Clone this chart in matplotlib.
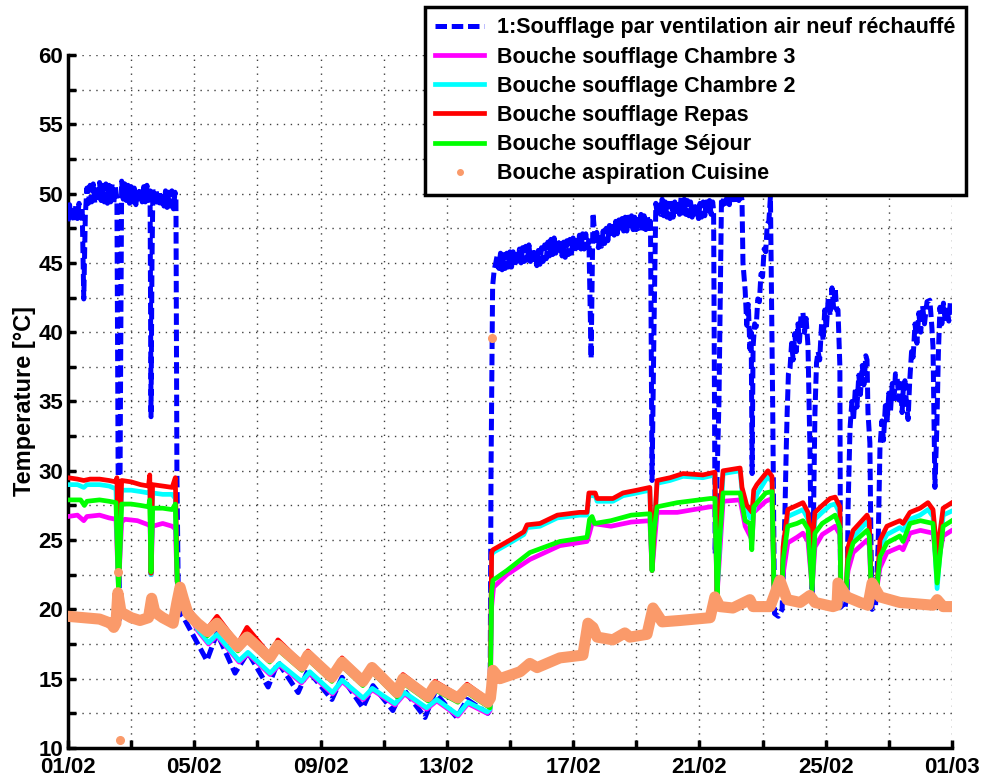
import matplotlib
matplotlib.use('Agg')
import matplotlib.pyplot as plt
from matplotlib.lines import Line2D
from matplotlib.ticker import MultipleLocator, FixedLocator

plt.rcParams['font.family'] = ['Liberation Sans', 'DejaVu Sans']
plt.rcParams['font.weight'] = 'bold'

# ---------------- data (time in days from 01/02 00:00, temperature in degC) ----------------
tick_days = [0, 4, 8, 12, 16, 20, 24, 28]
tick_labels = ['01/02', '05/02', '09/02', '13/02', '17/02', '21/02', '25/02', '01/03']

labels = ['1:Soufflage par ventilation air neuf réchauffé',
          'Bouche soufflage Chambre 3',
          'Bouche soufflage Chambre 2',
          'Bouche soufflage Repas',
          'Bouche soufflage Séjour',
          'Bouche aspiration Cuisine']

blue_t = [0.00, 0.05, 0.10, 0.15, 0.20, 0.25, 0.30, 0.35, 0.40, 0.45,
          0.50, 0.55, 0.60,
          0.65, 0.70, 0.75, 0.80, 0.85, 0.90, 0.95, 1.00, 1.05, 1.10, 1.15, 1.20,
          1.25, 1.30, 1.35, 1.40, 1.45, 1.50, 1.55,
          1.58, 1.61, 1.65, 1.70,
          1.75, 1.80, 1.85, 1.90, 1.95, 2.00, 2.05, 2.10, 2.15, 2.20, 2.25, 2.30,
          2.35, 2.40, 2.45, 2.50, 2.55, 2.60,
          2.63, 2.66, 2.69,
          2.74, 2.79, 2.84, 2.89, 2.94, 2.99, 3.04, 3.09, 3.14, 3.19, 3.24, 3.29,
          3.34, 3.39, 3.42,
          3.45, 3.50, 3.64,
          4.40, 4.72, 5.29, 5.70, 6.34, 6.65, 7.29, 7.60, 8.36, 8.68, 9.34, 9.66,
          10.29, 10.61, 11.31, 11.62, 12.32, 12.64, 13.30,
          13.37, 13.40, 13.45, 13.50, 13.55,
          13.60, 13.65, 13.70, 13.75, 13.80, 13.85, 13.90, 13.95, 14.00, 14.05, 14.10,
          14.15, 14.20, 14.25, 14.30, 14.35, 14.40, 14.45, 14.50, 14.55, 14.60, 14.65,
          14.70, 14.75, 14.80, 14.85, 14.90, 14.95, 15.00, 15.05, 15.10, 15.15, 15.20,
          15.25, 15.30, 15.35, 15.40, 15.45, 15.50, 15.55, 15.60, 15.65, 15.70, 15.75,
          15.80, 15.85, 15.90, 15.95, 16.00, 16.05, 16.10, 16.15, 16.20, 16.25, 16.30,
          16.35, 16.40, 16.45, 16.50,
          16.57, 16.63, 16.70,
          16.75, 16.80, 16.85, 16.90, 16.95, 17.00, 17.05, 17.10, 17.15, 17.20, 17.25,
          17.30, 17.35, 17.40, 17.45, 17.50, 17.55, 17.60, 17.65, 17.70, 17.75, 17.80,
          17.85, 17.90, 17.95, 18.00, 18.05, 18.10, 18.15, 18.20, 18.25, 18.30, 18.35,
          18.40, 18.45,
          18.50, 18.56, 18.62,
          18.67, 18.72, 18.77, 18.82, 18.87, 18.92, 18.97, 19.02, 19.07, 19.12, 19.17,
          19.22, 19.27, 19.32, 19.37, 19.42, 19.47, 19.52, 19.57, 19.62, 19.67, 19.72,
          19.77, 19.82, 19.87, 19.92, 19.97, 20.02, 20.07, 20.12, 20.17, 20.22, 20.27,
          20.32, 20.37, 20.42, 20.45,
          20.50, 20.62, 20.70,
          20.75, 20.80, 20.85, 20.90, 20.95, 21.00, 21.05, 21.10, 21.15, 21.20, 21.25,
          21.30,
          21.35, 21.38, 21.45, 21.50, 21.55, 21.60, 21.64, 21.67, 21.70, 21.75, 21.80,
          21.85, 21.90, 21.95, 22.00, 22.05, 22.10, 22.15, 22.20, 22.25, 22.32, 22.38,
          22.50, 22.62,
          22.65, 22.71, 22.75, 22.78, 22.82, 22.87, 22.92, 22.97, 23.02, 23.07, 23.12,
          23.17, 23.22, 23.28, 23.33, 23.38, 23.44, 23.50, 23.54, 23.57, 23.61, 23.66,
          23.71, 23.76, 23.81, 23.87, 23.92, 23.97, 24.02, 24.08, 24.14, 24.20, 24.25,
          24.30, 24.35, 24.39, 24.45, 24.47, 24.60, 24.68,
          24.71, 24.77, 24.83, 24.88, 24.94, 24.99, 25.05, 25.10, 25.16, 25.21, 25.27,
          25.31, 25.34, 25.40, 25.43, 25.47, 25.58,
          25.66, 25.72, 25.78, 25.83, 25.89, 25.94, 26.00, 26.05, 26.11, 26.16, 26.21,
          26.26, 26.32, 26.37, 26.42, 26.46, 26.51, 26.56, 26.61, 26.66, 26.72, 26.77,
          26.83, 26.89, 26.95, 27.01, 27.07, 27.13, 27.21, 27.30, 27.36, 27.40, 27.43,
          27.46, 27.52, 27.57, 27.62, 27.68, 27.73, 27.79, 27.84, 27.90, 27.95, 28.00]
blue_v = [48.0, 49.2, 48.1, 49.1, 48.0, 49.2, 48.2, 49.3, 48.3, 48.9,
          42.4, 48.5, 50.4,
          49.3, 50.6, 49.4, 50.7, 49.3, 50.6, 49.4, 50.8, 49.5, 50.6, 49.4, 50.7,
          49.3, 50.6, 49.4, 50.7, 49.3, 50.5, 49.6,
          35.0, 19.0, 30.0, 50.9,
          49.6, 50.7, 49.5, 50.6, 49.3, 50.5, 49.4, 50.4, 49.2, 50.3, 49.3, 50.4,
          49.4, 50.5, 49.4, 50.6, 49.5, 50.2,
          33.9, 45.0, 50.3,
          49.2, 50.3, 49.1, 50.2, 49.0, 50.1, 49.1, 50.2, 49.0, 50.1, 49.1, 50.2,
          48.9, 50.1, 49.5,
          30.0, 19.9, 19.5,
          16.3, 18.3, 15.4, 16.9, 14.4, 16.2, 14.0, 15.6, 13.5, 15.1, 12.9, 14.5,
          12.7, 14.3, 12.2, 14.0, 12.2, 13.5, 12.5,
          12.8, 30.0, 43.3, 44.5, 45.0,
          45.6, 44.6, 45.7, 44.5, 45.6, 44.6, 45.7, 44.7, 45.8, 44.7, 45.8,
          44.8, 45.9, 44.9, 46.0, 45.0, 46.1, 45.1, 46.2, 45.2, 46.3, 45.1,
          46.0, 44.9, 45.9, 44.8, 45.9, 44.9, 46.1, 45.1, 46.3, 45.3, 46.5,
          45.5, 46.7, 45.6, 46.8, 45.7, 46.7, 45.6, 46.6, 45.5, 46.5, 45.4,
          46.6, 45.6, 46.7, 45.7, 46.8, 45.8, 46.9, 45.9, 47.0, 46.0, 47.1,
          46.0, 47.1, 46.1, 46.6,
          38.1, 48.6, 46.6,
          47.2, 46.1, 47.1, 46.2, 47.3, 46.4, 47.5, 46.6, 47.7, 46.8, 47.9,
          47.0, 48.0, 47.1, 48.1, 47.2, 48.2, 47.3, 48.3, 47.3, 48.3, 47.4,
          48.4, 47.4, 48.3, 47.4, 48.4, 47.5, 48.5, 47.5, 48.4, 47.4, 48.4,
          47.5, 48.0,
          29.3, 40.0, 49.3,
          48.4, 49.5, 48.5, 49.6, 48.4, 49.4, 48.3, 49.3, 48.2, 49.3, 48.3,
          49.4, 48.4, 49.5, 48.5, 49.7, 48.6, 49.6, 48.5, 49.5, 48.4, 49.4,
          48.3, 49.3, 48.2, 49.2, 48.2, 49.3, 48.3, 49.4, 48.4, 49.4, 48.5,
          49.5, 48.5, 49.4, 48.8,
          24.0, 35.0, 49.7,
          49.2, 50.3, 49.3, 50.4, 49.2, 50.3, 49.3, 50.4, 49.4, 50.4, 49.5,
          50.3,
          49.5, 45.0, 43.0, 40.5, 42.0, 38.8, 40.0, 29.8, 38.9, 40.6, 40.4,
          42.4, 42.2, 44.2, 44.0, 46.0, 45.8, 47.8, 48.0, 49.8, 35.0, 19.7,
          19.5, 20.0,
          22.0, 27.0, 31.5, 34.2, 37.0, 37.4, 39.2, 38.0, 39.9, 38.6, 40.6,
          39.3, 41.3, 41.4, 40.0, 41.0, 39.0, 31.7, 24.5, 20.5, 26.0, 34.2,
          37.8, 38.6, 38.0, 40.6, 39.4, 41.6, 40.2, 42.4, 41.2, 43.2, 41.8,
          43.2, 41.6, 41.6, 37.5, 20.3, 20.0, 21.0,
          27.4, 33.0, 35.0, 33.6, 36.0, 34.6, 36.9, 35.5, 37.6, 36.2, 38.3,
          38.0, 34.2, 32.0, 25.5, 20.0, 20.3,
          24.5, 31.7, 33.6, 32.2, 34.7, 33.4, 35.6, 34.2, 36.3, 34.9, 37.0,
          36.8, 35.1, 36.3, 34.2, 36.0, 36.5, 34.8, 33.7, 36.4, 38.6, 38.2,
          40.6, 39.2, 41.4, 40.0, 41.9, 40.6, 42.2, 42.3, 40.5, 38.9, 34.0,
          28.8, 33.0, 38.5, 41.8, 40.6, 42.1, 40.7, 41.8, 40.8, 42.2, 41.6]

magenta_t = [0.0, 0.3, 0.5, 0.6, 1.0, 1.3, 1.52, 1.60, 1.70, 1.8, 2.2, 2.55, 2.60, 2.63, 2.68,
             3.0, 3.3, 3.40, 3.46, 3.52, 3.60, 3.80, 4.10, 4.45, 4.72, 5.42, 5.70, 6.40, 6.70,
             7.40, 7.66, 8.38, 8.68, 9.35, 9.64, 10.36, 10.66, 11.36, 11.68, 12.35, 12.67,
             13.28, 13.37, 13.42, 13.48, 13.9, 14.63, 15.58, 16.44, 16.52, 16.60, 17.2, 17.84,
             18.43, 18.50, 18.66, 19.3, 20.34, 20.49, 20.56, 20.75, 21.29, 21.45, 21.67, 21.72,
             22.10, 22.30, 22.36, 22.62, 22.65, 22.80, 23.09, 23.28, 23.44, 23.57, 23.66, 23.89,
             24.30, 24.45, 24.48, 24.65, 24.71, 24.87, 25.31, 25.38, 25.44, 25.62, 25.72, 25.94,
             26.35, 26.45, 26.67, 27.0, 27.40, 27.53, 27.72, 28.0]
magenta_v = [26.7, 26.8, 26.4, 26.7, 26.8, 26.6, 26.5, 21.5, 26.3, 26.5, 26.4, 26.1, 26.0, 22.5, 26.0,
             26.2, 26.0, 25.8, 21.9, 21.6, 20.9, 19.8, 18.5, 17.5, 18.1, 16.2, 16.8, 15.3, 16.0,
             14.7, 15.4, 13.9, 14.8, 13.5, 14.2, 13.1, 13.9, 12.8, 13.4, 12.3, 13.2,
             12.5, 12.7, 20.2, 21.6, 22.5, 23.6, 24.6, 24.9, 25.5, 26.2, 26.0, 26.3,
             26.4, 22.8, 27.0, 27.0, 27.4, 27.4, 21.0, 27.8, 27.9, 26.0, 25.0, 27.0,
             27.8, 28.0, 21.5, 21.5, 22.5, 24.8, 25.2, 25.5, 24.9, 21.5, 24.5, 25.4,
             26.0, 25.4, 21.5, 21.5, 22.8, 24.1, 25.0, 24.6, 21.5, 21.5, 23.0, 24.1,
             24.5, 24.3, 25.5, 25.7, 25.5, 23.0, 25.3, 25.7]

cyan_t = [0.0, 0.3, 0.5, 0.6, 1.0, 1.3, 1.52, 1.60, 1.70, 2.0, 2.3, 2.55, 2.60, 2.63, 2.68,
          3.0, 3.3, 3.40, 3.46, 3.52, 3.60, 3.80, 4.10, 4.45, 4.72, 5.42, 5.70, 6.40, 6.70,
          7.40, 7.66, 8.38, 8.68, 9.35, 9.64, 10.36, 10.66, 11.36, 11.68, 12.35, 12.67,
          13.28, 13.37, 13.42, 13.46, 14.0, 14.44, 14.54, 14.95, 15.5, 16.2, 16.44, 16.50,
          16.70, 16.76, 17.26, 17.58, 18.02, 18.43, 18.50, 18.66, 19.07, 19.48, 20.11, 20.49,
          20.56, 20.75, 21.29, 21.35, 21.60, 21.70, 21.82, 22.17, 22.30, 22.36, 22.62, 22.65,
          22.80, 23.09, 23.28, 23.44, 23.57, 23.66, 23.89, 24.14, 24.30, 24.45, 24.48, 24.65,
          24.71, 24.87, 25.31, 25.38, 25.44, 25.62, 25.72, 25.94, 26.35, 26.45, 26.67, 26.99,
          27.24, 27.40, 27.53, 27.72, 28.0]
cyan_v = [29.0, 29.0, 28.8, 29.0, 29.0, 28.9, 28.7, 21.5, 28.6, 28.6, 28.5, 28.4, 28.6, 22.5, 28.4,
          28.3, 28.3, 28.0, 22.0, 21.7, 21.0, 19.9, 18.6, 17.6, 18.2, 16.3, 16.9, 15.4, 16.1,
          14.8, 15.5, 14.0, 14.9, 13.6, 14.3, 13.2, 14.0, 12.9, 13.5, 12.4, 13.3,
          12.6, 12.8, 23.9, 24.1, 24.8, 25.4, 25.9, 26.0, 26.6, 26.8, 26.8, 28.2,
          28.2, 27.8, 27.8, 28.2, 28.4, 28.6, 22.8, 29.1, 29.3, 29.6, 29.5, 29.7,
          21.2, 29.8, 30.0, 28.5, 26.6, 26.8, 28.3, 29.6, 29.2, 21.8, 21.8, 24.0,
          26.7, 27.0, 27.2, 26.5, 22.5, 26.5, 27.0, 27.5, 27.6, 26.9, 21.5, 21.5,
          24.1, 25.2, 26.3, 25.9, 21.8, 21.5, 24.5, 25.4, 25.9, 25.7, 26.5, 26.8,
          27.2, 26.7, 21.5, 26.8, 27.1]

red_t = [0.0, 0.3, 0.5, 0.7, 1.0, 1.3, 1.52, 1.55, 1.60, 1.70, 2.0, 2.3, 2.55, 2.59, 2.63, 2.68,
         3.0, 3.3, 3.40, 3.46, 3.52, 3.65, 3.80, 4.10, 4.42, 4.72, 5.38, 5.67, 6.39, 6.65,
         7.41, 7.60, 8.36, 8.68, 9.34, 9.63, 10.42, 10.61, 11.40, 11.62, 12.35, 12.64, 13.30,
         13.37, 13.42, 13.46, 14.0, 14.44, 14.54, 14.95, 15.5, 16.2, 16.44, 16.50, 16.70, 16.76,
         17.26, 17.58, 18.02, 18.43, 18.50, 18.66, 19.07, 19.48, 20.11, 20.49, 20.56, 20.64,
         20.75, 21.29, 21.35, 21.50, 21.67, 21.72, 21.82, 22.17, 22.30, 22.36, 22.62, 22.65,
         22.80, 23.09, 23.28, 23.44, 23.57, 23.62, 23.66, 23.89, 24.14, 24.30, 24.45, 24.48,
         24.65, 24.71, 24.87, 25.31, 25.38, 25.44, 25.62, 25.72, 25.94, 26.35, 26.45, 26.67,
         26.99, 27.24, 27.40, 27.53, 27.72, 28.0]
red_v = [29.5, 29.4, 29.3, 29.4, 29.4, 29.3, 29.2, 29.5, 21.5, 29.3, 29.2, 29.0, 28.9, 29.7, 22.6, 29.0,
         28.9, 28.8, 29.5, 22.0, 21.8, 21.0, 20.1, 19.2, 18.6, 19.5, 17.5, 18.7, 16.7, 17.8,
         16.1, 17.0, 15.3, 16.5, 15.0, 16.0, 14.2, 15.3, 13.9, 14.8, 13.8, 14.6, 13.5,
         13.4, 24.1, 24.3, 25.0, 25.6, 26.1, 26.2, 26.8, 27.0, 27.0, 28.4, 28.4, 28.0,
         28.0, 28.4, 28.6, 28.8, 22.8, 29.3, 29.5, 29.8, 29.7, 29.9, 21.3, 27.0,
         30.0, 30.2, 28.8, 27.5, 27.0, 28.6, 29.0, 30.0, 29.6, 21.8, 21.8, 24.5,
         27.2, 27.5, 27.7, 27.0, 24.0, 26.0, 27.0, 27.5, 28.0, 28.1, 27.4, 21.5,
         21.5, 24.5, 25.7, 26.8, 26.4, 21.8, 21.5, 25.0, 26.0, 26.4, 26.2, 27.0,
         27.3, 27.7, 27.2, 24.0, 27.3, 27.7]

green_t = [0.0, 0.4, 0.52, 0.6, 1.0, 1.3, 1.52, 1.60, 1.70, 2.0, 2.3, 2.55, 2.59, 2.63, 2.68,
           3.0, 3.3, 3.40, 3.46, 3.52, 3.65, 3.80, 4.10, 4.42, 4.72, 5.38, 5.67, 6.39, 6.65,
           7.41, 7.60, 8.36, 8.68, 9.34, 9.63, 10.42, 10.61, 11.40, 11.62, 12.35, 12.64, 13.30,
           13.37, 13.42, 13.46, 13.9, 14.63, 15.58, 16.44, 16.52, 16.60, 16.68, 17.2, 17.84,
           18.43, 18.50, 18.55, 18.66, 19.3, 20.34, 20.49, 20.56, 20.64, 20.75, 21.29, 21.45,
           21.60, 21.66, 21.72, 22.10, 22.30, 22.36, 22.62, 22.65, 22.80, 23.09, 23.28, 23.44,
           23.57, 23.66, 23.89, 24.30, 24.45, 24.48, 24.65, 24.71, 24.87, 25.31, 25.38, 25.44,
           25.62, 25.72, 25.94, 26.35, 26.45, 26.67, 27.0, 27.40, 27.53, 27.72, 28.0]
green_v = [27.9, 27.9, 27.5, 27.8, 27.9, 27.8, 27.7, 21.3, 27.6, 27.6, 27.5, 27.4, 27.9, 22.7, 27.3,
           27.3, 27.2, 27.6, 22.0, 21.5, 20.8, 19.8, 18.9, 18.1, 18.8, 17.0, 17.8, 16.2, 17.1,
           15.6, 16.4, 14.8, 15.9, 14.5, 15.5, 13.7, 14.7, 13.4, 14.2, 13.3, 14.0, 13.0,
           12.9, 21.2, 22.1, 22.8, 24.1, 24.9, 25.2, 26.5, 26.7, 26.2, 26.4, 26.8,
           26.9, 22.8, 25.5, 27.4, 27.7, 28.0, 28.0, 21.0, 25.0, 28.4, 28.4, 26.4,
           26.2, 24.3, 27.4, 28.4, 28.5, 21.5, 21.5, 23.5, 26.0, 26.2, 26.4, 25.8,
           21.4, 25.5, 26.2, 26.8, 25.9, 21.5, 21.5, 23.5, 24.8, 25.7, 25.3, 21.5,
           21.5, 23.8, 24.8, 25.3, 24.9, 26.2, 26.4, 26.2, 21.9, 26.0, 26.4]

orange_t = [0.0, 0.5, 1.0, 1.35, 1.45, 1.52, 1.58, 1.68, 2.0, 2.28, 2.55, 2.65, 2.75, 3.0, 3.33,
            3.45, 3.55, 3.65, 3.80, 4.10, 4.42, 4.72, 5.38, 5.67, 6.39, 6.65, 7.41, 7.60, 8.36,
            8.68, 9.34, 9.63, 10.42, 10.61, 11.40, 11.62, 12.35, 12.64, 13.30, 13.38, 13.42,
            13.46, 13.68, 14.32, 14.63, 14.86, 15.58, 16.31, 16.47, 16.63, 16.76, 17.26, 17.64,
            17.80, 18.34, 18.53, 18.82, 19.39, 20.34, 20.49, 20.65, 21.06, 21.60, 21.70, 22.24,
            22.55, 22.78, 23.19, 23.50, 23.66, 24.23, 24.36, 24.39, 24.67, 25.09, 25.34, 25.47,
            25.72, 26.35, 27.40, 27.53, 27.72, 28.0]
orange_v = [19.5, 19.4, 19.3, 19.0, 18.7, 19.0, 21.2, 19.8, 19.4, 19.2, 19.4, 20.8, 19.8, 19.4, 19.0,
            20.5, 21.6, 20.8, 19.7, 19.0, 18.4, 19.0, 17.3, 18.0, 16.5, 17.4, 15.9, 16.7, 15.1,
            16.2, 14.8, 15.8, 14.0, 15.0, 13.7, 14.5, 13.6, 14.3, 13.3, 13.6, 14.4,
            15.6, 15.0, 15.5, 16.1, 15.8, 16.5, 16.7, 19.0, 18.7, 18.0, 17.8, 18.3,
            18.0, 18.2, 20.1, 19.1, 19.2, 19.4, 20.9, 20.2, 20.1, 20.7, 20.2, 20.2,
            22.1, 20.7, 20.5, 21.0, 20.5, 20.2, 20.3, 21.9, 20.9, 20.5, 20.3, 21.9,
            20.9, 20.5, 20.3, 20.7, 20.2, 20.2]
orange_pts_t = [1.58, 1.65, 13.43]
orange_pts_v = [22.7, 10.6, 39.6]

# ---------------- figure ----------------
BLUE, MAGENTA, CYAN, RED, GREEN, ORANGE = '#0000FF', '#FF00FF', '#00FFFF', '#FF0000', '#00FF00', '#FA9A6A'

fig = plt.figure(figsize=(9.81, 7.78), dpi=100)
ax = fig.add_axes([0.0693, 0.0386, 0.9011, 0.8907])

lw = 3.4
hb, = ax.plot(blue_t, blue_v, color=BLUE, lw=3.6, dashes=(2.3, 0.95), zorder=3)
hm, = ax.plot(magenta_t, magenta_v, color=MAGENTA, lw=lw, zorder=4)
hc, = ax.plot(cyan_t, cyan_v, color=CYAN, lw=lw, zorder=5)
hr, = ax.plot(red_t, red_v, color=RED, lw=lw, zorder=6)
hg, = ax.plot(green_t, green_v, color=GREEN, lw=lw, zorder=7)
ax.plot(orange_t, orange_v, color=ORANGE, lw=8, solid_capstyle='round',
        solid_joinstyle='round', zorder=8)
ax.plot(orange_pts_t, orange_pts_v, ls='none', marker='o', ms=5.5, color=ORANGE,
        mec=ORANGE, zorder=8)
ho = Line2D([], [], ls='none', marker='o', ms=4, color=ORANGE, mec=ORANGE)

ax.set_xlim(0, 28)
ax.set_ylim(10, 60)
ax.xaxis.set_major_locator(FixedLocator(tick_days))
ax.set_xticklabels(tick_labels)
ax.xaxis.set_minor_locator(MultipleLocator(2))
ax.yaxis.set_major_locator(MultipleLocator(5))
ax.yaxis.set_minor_locator(MultipleLocator(2.5))

for s in ['top', 'right']:
    ax.spines[s].set_visible(False)
for s in ['left', 'bottom']:
    ax.spines[s].set_linewidth(2.5)
ax.tick_params(which='both', direction='in', width=2.5, length=6, labelsize=16)
ax.tick_params(axis='x', pad=6.5)
ax.grid(which='both', color='0.25', linestyle=(0, (1, 4)), linewidth=1.0)
ax.set_axisbelow(True)
ax.set_ylabel('Temperature [°C]', fontsize=17, fontweight='bold', labelpad=2)

leg = fig.legend([hb, hm, hc, hr, hg, ho], labels, loc='upper right',
                 bbox_to_anchor=(0.9847, 0.991), bbox_transform=fig.transFigure,
                 borderaxespad=0, fontsize=15.5, frameon=True, fancybox=False,
                 framealpha=1, edgecolor='black', handlelength=2.3,
                 handletextpad=0.6, labelspacing=0.38, borderpad=0.48)
leg.get_frame().set_linewidth(2.5)
leg.set_zorder(20)

fig.savefig('out.png', dpi=100)
